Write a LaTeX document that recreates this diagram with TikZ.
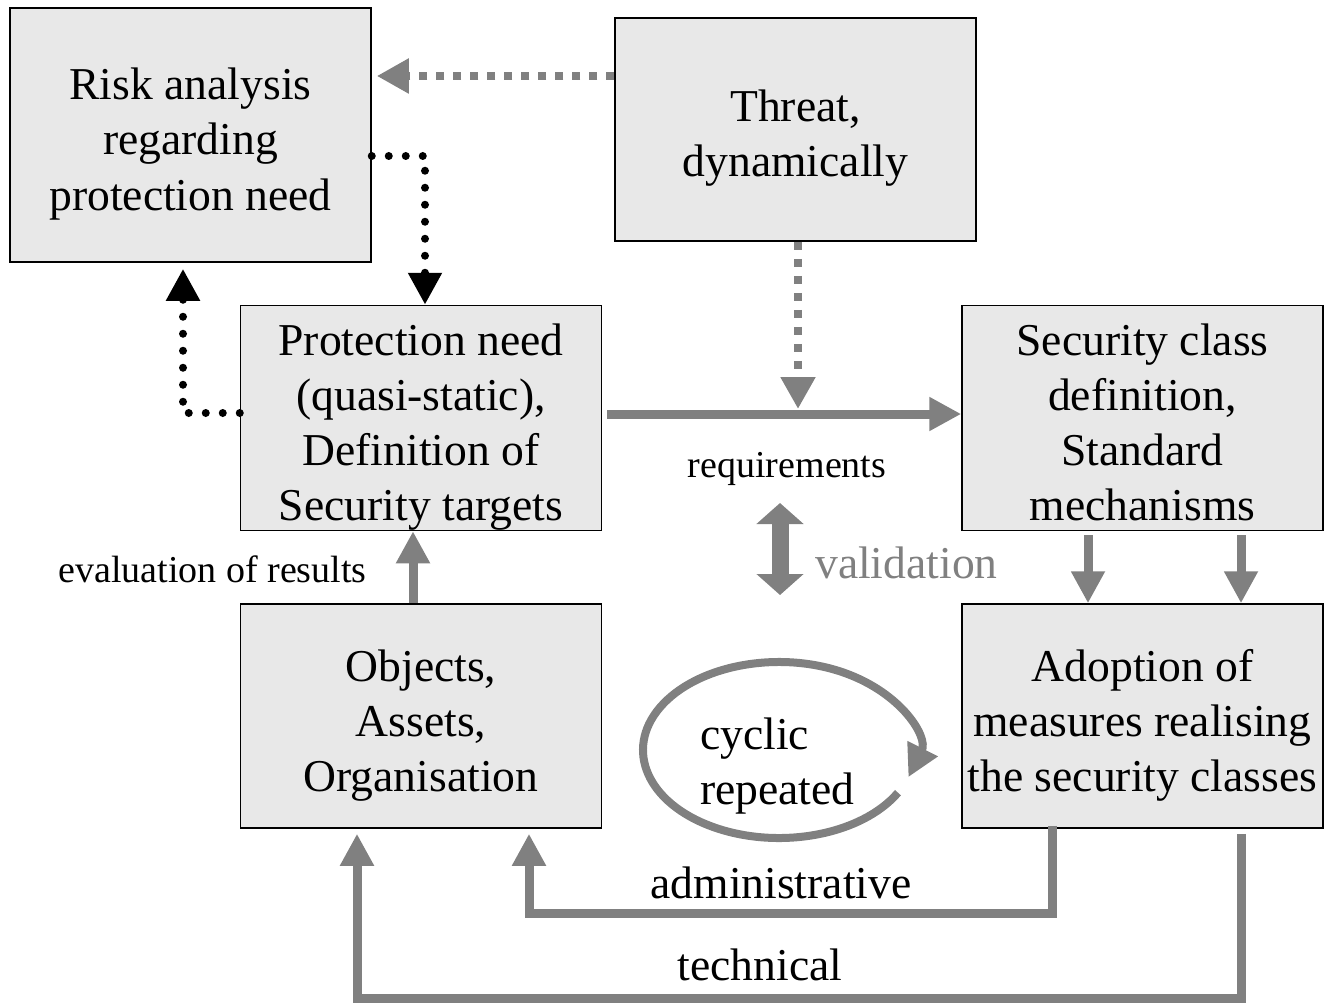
\documentclass[tikz,border=0pt]{standalone}
\usepackage{fontspec}
\setmainfont{Liberation Serif}
\usetikzlibrary{arrows.meta,calc}
\definecolor{boxfill}{HTML}{E8E8E8}
\definecolor{arrgray}{HTML}{808080}
\newcommand\boxtopstrut{\rule{0pt}{50pt}}
\begin{document}
\begin{tikzpicture}[x=1pt,y=-1pt,
  box/.style={draw=black, line width=1.5pt, fill=boxfill, minimum width=361pt, inner sep=0pt, align=center, font=\fontsize{45.6}{55}\selectfont,
    execute at end node={\rule[-10pt]{0pt}{10pt}}},
  big/.style={font=\fontsize{45.6}{55}\selectfont, inner sep=0pt},
  small/.style={font=\fontsize{38}{46}\selectfont, inner sep=0pt},
  grayarrow/.style={draw=arrgray, line width=9pt, -{Triangle[width=32pt,length=32pt]}},
  graydots/.style={draw=arrgray, line width=8pt, dash pattern=on 8pt off 9pt, -{Triangle[width=33pt,length=32pt]}},
  blackdots/.style={draw=black, line width=8pt, line cap=round, dash pattern=on 0pt off 17pt, -{Triangle[width=32pt,length=32pt]}},
]
\useasboundingbox (0,0) rectangle (1324,1003);

% boxes
\node[box, minimum height=254pt] (risk) at (190.5,135) {\boxtopstrut Risk analysis\\regarding\\protection need};
\node[box, minimum height=223pt] (threat) at (795.5,129.5) {\boxtopstrut Threat,\\dynamically};
\node[box, minimum height=224pt] (prot) at (421,418) {\boxtopstrut Protection need\\(quasi-static),\\Definition of\\Security targets};
\node[box, minimum height=224pt] (sec) at (1142.5,418) {\boxtopstrut Security class\\definition,\\Standard\\mechanisms};
\node[box, minimum height=224pt] (obj) at (421,716) {\boxtopstrut Objects,\\Assets,\\Organisation};
\node[box, minimum height=224pt] (adopt) at (1142.5,716) {\boxtopstrut Adoption of\\measures realising\\the security classes};

% labels
\node[small, anchor=base] (reqlabel) at (787,477) {requirements};
\node[small, anchor=base] (evallabel) at (212.5,582) {evaluation of results};
\node[big, anchor=base west, text=arrgray] (vallabel) at (815,578) {validation};
\node[big, anchor=base] (admlabel) at (781,898) {administrative};
\node[big, anchor=base] (techlabel) at (760,980) {technical};
\node[big, anchor=west, align=left] (cyctext) at (700,766.5) {cyclic\\repeated};

% threat -> risk
\coordinate (t1) at ([yshift=53.5pt]threat.west);
\draw[graydots, shorten >=5pt] (t1) -- (t1 -| risk.east);

% risk -> protection
\draw[blackdots] ([yshift=-21pt]risk.east) -| ([xshift=4pt]prot.north);

% protection -> risk
\draw[blackdots] ([yshift=5pt]prot.west) -| ([xshift=-7.5pt,yshift=-6pt]risk.south);

% protection -> security (requirements)
\coordinate (req) at (798,409);
\draw[grayarrow, shorten <=5pt] ([yshift=4pt]prot.east) -- ([yshift=4pt]sec.west);

% threat -> requirements line
\draw[graydots] ([xshift=2.5pt]threat.south) -- (req);

% validation double arrow
\coordinate (v1) at (780,503);
\coordinate (v2) at (780,595);
\draw[arrgray, line width=17pt, {Triangle[width=46pt,length=21pt]}-{Triangle[width=46pt,length=21pt]}] (v1) -- (v2);

% security -> adoption
\draw[grayarrow, shorten <=4pt] ([xshift=-54.5pt]sec.south) -- ([xshift=-54.5pt]adopt.north);
\draw[grayarrow, shorten <=4pt] ([xshift=98.5pt]sec.south) -- ([xshift=98.5pt]adopt.north);

% objects -> protection
\draw[grayarrow] ([xshift=-8pt]obj.north) -- ([xshift=-8pt]prot.south);

% administrative
\draw[grayarrow] ([xshift=-90.5pt,yshift=3pt]adopt.south) -- ++(0,88) -| ([xshift=108pt,yshift=-5pt]obj.south);

% technical
\draw[grayarrow] ([xshift=98.5pt,yshift=-5pt]adopt.south) -- ++(0,165) -| ([xshift=-64pt,yshift=-5pt]obj.south);

% cycle
\coordinate (cyc) at (779,750);
\draw[arrgray, line width=8pt, -{Triangle[width=32pt,length=32pt]}] ($(cyc)+(-29:136pt and 88pt)$) arc[start angle=-29, end angle=-378, x radius=136pt, y radius=88pt];
\end{tikzpicture}
\end{document}
